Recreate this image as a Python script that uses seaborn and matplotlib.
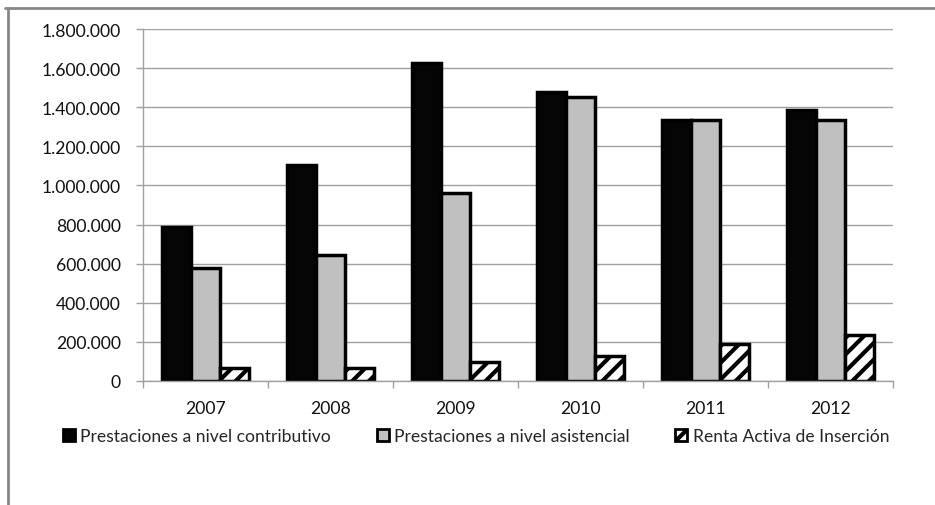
import matplotlib
matplotlib.use("Agg")
import matplotlib.pyplot as plt
from matplotlib.lines import Line2D
from matplotlib.patches import Patch
from matplotlib.ticker import FuncFormatter
import pandas as pd
import seaborn as sns

years = ['2007', '2008', '2009', '2010', '2011', '2012']
series = ['Prestaciones a nivel contributivo', 'Prestaciones a nivel asistencial', 'Renta Activa de Inserción']
contributivo = [785000, 1102000, 1628000, 1477000, 1333000, 1388000]
asistencial = [576000, 646000, 963000, 1451000, 1333000, 1333000]
renta_activa = [66000, 66000, 97000, 126000, 189000, 237000]
colors = ['#050505', '#c0c0c0', '#ffffff']

rows = []
for name, vals in zip(series, [contributivo, asistencial, renta_activa]):
    for y, v in zip(years, vals):
        rows.append({'Año': y, 'Serie': name, 'Valor': v})
data = pd.DataFrame(rows)

sns.set_style('white')
plt.rcParams['font.family'] = ['Lato', 'DejaVu Sans']
plt.rcParams['hatch.linewidth'] = 3.0
fs = 12.6

fig = plt.figure(figsize=(9.35, 5.06), dpi=100)
ax = fig.add_axes([143/935, 1-382/506, 750/935, 352/506])

sns.barplot(data=data, x='Año', y='Valor', hue='Serie', palette=colors,
            edgecolor='black', linewidth=2.5, width=0.69, legend=False, ax=ax)
for p in ax.containers[2].patches:
    p.set_hatch('//')

ax.set_ylim(0, 1800000)
ax.set_xlim(-0.5, 5.5)
ax.set_yticks(range(0, 1800001, 200000))
ax.yaxis.set_major_formatter(FuncFormatter(lambda v, pos: f'{int(v):,}'.replace(',', '.')))
ax.set_xticks([i - 0.5 for i in range(7)], minor=True)
ax.tick_params(axis='x', which='major', length=0, pad=14, labelsize=fs, colors='#111111')
ax.tick_params(axis='x', which='minor', length=5, width=1, color='#a0a0a0', direction='out', bottom=True)
ax.tick_params(axis='y', length=5, width=1, color='#a0a0a0', direction='out', left=True, pad=11,
               labelsize=fs, labelcolor='#111111')
ax.grid(axis='y', color='#a0a0a0', linewidth=1)
ax.set_axisbelow(True)
ax.set_xlabel('')
ax.set_ylabel('')
for s in ['top', 'right']:
    ax.spines[s].set_visible(False)
for s in ['left', 'bottom']:
    ax.spines[s].set_color('#a0a0a0')
    ax.spines[s].set_linewidth(1)

handles = [Patch(facecolor=c, edgecolor='black', linewidth=2, hatch=h)
           for c, h in zip(colors, ['', '', '//'])]
fig.legend(handles, series, loc='center', bbox_to_anchor=(476/935, 1-437/506), ncol=3,
           frameon=False, fontsize=fs, handlelength=0.7, handleheight=0.7,
           handletextpad=0.3, columnspacing=2.6, borderaxespad=0)

# outer chart frame (partially cropped in the original)
fig.add_artist(Line2D([5/935, 1], [1-9/506, 1-9/506], transform=fig.transFigure, color='#888888', linewidth=2))
fig.add_artist(Line2D([8/935, 8/935], [0, 1-9/506], transform=fig.transFigure, color='#888888', linewidth=2))

fig.savefig('out.png', dpi=100)
